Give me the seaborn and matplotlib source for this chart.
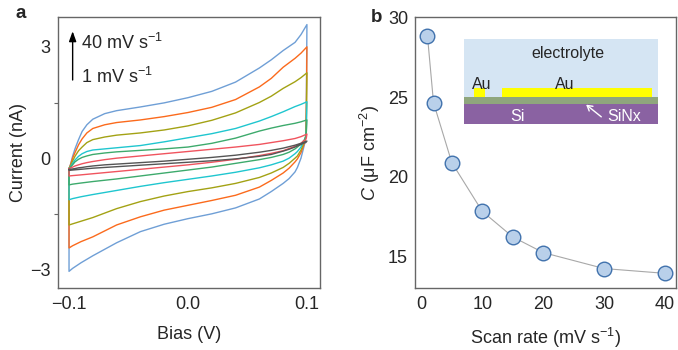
import matplotlib
matplotlib.use("Agg")
import matplotlib.pyplot as plt
import seaborn as sns
import numpy as np
import pandas as pd
from matplotlib.patches import Rectangle

sns.set_theme(style="white")
plt.rcParams['font.family'] = ['Liberation Sans', 'DejaVu Sans']
plt.rcParams['mathtext.fontset'] = 'custom'
plt.rcParams['mathtext.rm'] = 'Liberation Sans'
plt.rcParams['mathtext.it'] = 'Liberation Sans:italic'

# ---------------- Panel a data (CV curves) ----------------
scan_rates_a = [40, 30, 20, 10, 5, 2, 1]
colors_a = ["#6f9fd6", "#fb6a1c", "#a3a214", "#1fc6cf", "#3daa6c", "#f0545e", "#555555"]

v_fwd = [-0.1, -0.099, -0.097, -0.095, -0.092, -0.089, -0.085, -0.08, -0.07, -0.06, -0.04, -0.02,
         0.0, 0.02, 0.04, 0.06, 0.07, 0.08, 0.09, 0.095, 0.1]
v_rev = [0.1, 0.0995, 0.099, 0.098, 0.097, 0.095, 0.092, 0.09, 0.085, 0.08, 0.07, 0.06, 0.04, 0.02,
         0.0, -0.02, -0.04, -0.06, -0.08, -0.09, -0.097, -0.1, -0.1]

i_fwd_40 = [-0.28, -0.2, 0.05, 0.25, 0.5, 0.72, 0.9, 1.05, 1.2, 1.28, 1.38, 1.49, 1.63, 1.8, 2.05, 2.43, 2.65, 2.9, 3.12, 3.33, 3.6]
i_rev_40 = [3.6, 1.5, 0.6, 0.38, 0.25, 0.0, -0.25, -0.37, -0.55, -0.68, -0.9, -1.1, -1.34, -1.5, -1.63, -1.78, -1.98, -2.28, -2.63, -2.82, -2.97, -3.05, -0.28]
i_fwd_30 = [-0.28, -0.2, 0.0, 0.15, 0.36, 0.52, 0.68, 0.8, 0.9, 0.96, 1.03, 1.12, 1.23, 1.37, 1.58, 1.92, 2.15, 2.45, 2.69, 2.83, 3.0]
i_rev_30 = [3.0, 1.2, 0.6, 0.42, 0.32, 0.15, -0.02, -0.1, -0.27, -0.4, -0.6, -0.78, -1.0, -1.14, -1.27, -1.4, -1.58, -1.8, -2.12, -2.25, -2.36, -2.42, -0.28]
i_fwd_20 = [-0.28, -0.22, -0.08, 0.05, 0.2, 0.3, 0.42, 0.5, 0.57, 0.62, 0.68, 0.76, 0.87, 1.02, 1.22, 1.5, 1.67, 1.88, 2.06, 2.17, 2.3]
i_rev_20 = [2.3, 1.0, 0.6, 0.46, 0.38, 0.22, 0.06, 0.0, -0.14, -0.25, -0.4, -0.52, -0.68, -0.8, -0.9, -1.02, -1.17, -1.36, -1.6, -1.7, -1.77, -1.8, -0.28]
i_fwd_10 = [-0.28, -0.24, -0.14, -0.05, 0.05, 0.12, 0.18, 0.22, 0.25, 0.28, 0.34, 0.44, 0.55, 0.66, 0.8, 1.0, 1.12, 1.25, 1.39, 1.45, 1.52]
i_rev_10 = [1.52, 0.8, 0.58, 0.5, 0.44, 0.3, 0.18, 0.12, 0.0, -0.08, -0.18, -0.26, -0.38, -0.48, -0.57, -0.66, -0.76, -0.87, -0.98, -1.04, -1.09, -1.12, -0.28]
i_fwd_5 = [-0.28, -0.25, -0.18, -0.1, -0.03, 0.02, 0.06, 0.1, 0.14, 0.17, 0.21, 0.25, 0.3, 0.4, 0.54, 0.73, 0.81, 0.88, 0.94, 0.98, 1.03]
i_rev_5 = [1.03, 0.7, 0.55, 0.5, 0.46, 0.38, 0.3, 0.25, 0.16, 0.1, 0.02, -0.04, -0.14, -0.24, -0.32, -0.4, -0.48, -0.56, -0.63, -0.67, -0.7, -0.72, -0.28]
i_fwd_2 = [-0.28, -0.27, -0.24, -0.21, -0.18, -0.15, -0.12, -0.09, -0.04, 0.0, 0.06, 0.12, 0.18, 0.24, 0.3, 0.37, 0.42, 0.47, 0.53, 0.58, 0.65]
i_rev_2 = [0.65, 0.55, 0.5, 0.48, 0.46, 0.4, 0.35, 0.32, 0.26, 0.2, 0.13, 0.07, -0.03, -0.11, -0.18, -0.24, -0.3, -0.36, -0.42, -0.45, -0.47, -0.48, -0.28]
i_fwd_1 = [-0.3, -0.3, -0.29, -0.28, -0.26, -0.25, -0.23, -0.21, -0.18, -0.16, -0.12, -0.08, -0.03, 0.02, 0.08, 0.16, 0.21, 0.27, 0.35, 0.4, 0.46]
i_rev_1 = [0.46, 0.44, 0.42, 0.41, 0.4, 0.37, 0.33, 0.3, 0.24, 0.19, 0.1, 0.05, -0.02, -0.07, -0.11, -0.15, -0.19, -0.23, -0.27, -0.3, -0.32, -0.33, -0.3]

curves_fwd = [i_fwd_40, i_fwd_30, i_fwd_20, i_fwd_10, i_fwd_5, i_fwd_2, i_fwd_1]
curves_rev = [i_rev_40, i_rev_30, i_rev_20, i_rev_10, i_rev_5, i_rev_2, i_rev_1]

# ---------------- Panel b data ----------------
scan_rate_b = [1, 2, 5, 10, 15, 20, 30, 40]
capacitance_b = [28.85, 24.65, 20.9, 17.85, 16.25, 15.27, 14.27, 13.97]

fig = plt.figure(figsize=(6.78, 3.5), dpi=100)
axa = fig.add_axes([0.0855, 0.177, 0.3865, 0.774])
axb = fig.add_axes([0.612, 0.177, 0.3855, 0.774])

spine_col = "#666666"
fs = 13

# ---- panel a ----
for sr, col, f, r in zip(scan_rates_a, colors_a, curves_fwd, curves_rev):
    df = pd.DataFrame({"V": v_fwd + v_rev, "I": f + r})
    sns.lineplot(data=df, x="V", y="I", sort=False, estimator=None,
                 color=col, lw=1.0, ax=axa)
axa.set_xlim(-0.1093, 0.111)
axa.set_ylim(-3.5, 3.8)
axa.set_xticks([-0.1, 0.0, 0.1])
axa.set_xticklabels(["\u22120.1", "0.0", "0.1"])
axa.set_yticks([-3, 0, 3])
axa.set_yticklabels(["\u22123", "0", "3"])
axa.set_yticks([-1.5, 1.5], minor=True)
axa.set_xlabel("Bias (V)", fontsize=fs, labelpad=9)
axa.set_ylabel("Current (nA)", fontsize=fs, labelpad=2)
axa.tick_params(axis="x", direction="in", length=4, width=0.8, color=spine_col,
                labelsize=fs, pad=6)
axa.tick_params(axis="y", which="both", direction="out", length=4, width=0.8,
                color=spine_col, labelsize=fs, pad=1.5)
axa.tick_params(axis="y", which="minor", left=True, length=3)
for s in axa.spines.values():
    s.set_color(spine_col)
    s.set_linewidth(1.0)

axa.annotate("", xy=(0.056, 0.948), xytext=(0.056, 0.768), xycoords="axes fraction",
             arrowprops=dict(arrowstyle="-|>,head_length=0.5,head_width=0.18",
                             color="black", lw=1.0, shrinkA=0, shrinkB=0))
axa.text(0.088, 0.905, "40 mV s$^{-1}$", transform=axa.transAxes, fontsize=fs,
         va="center", ha="left")
axa.text(0.088, 0.78, "1 mV s$^{-1}$", transform=axa.transAxes, fontsize=fs,
         va="center", ha="left")
fig.text(16 / 678, 1 - 14 / 350, "a", fontsize=13.5, fontweight="bold", ha="left", va="center")

# ---- panel b ----
dfb = pd.DataFrame({"rate": scan_rate_b, "C": capacitance_b})
sns.lineplot(data=dfb, x="rate", y="C", color="#a8a8a8", lw=0.8, ax=axb, zorder=2)
sns.scatterplot(data=dfb, x="rate", y="C", s=110, color="#b9d0ea",
                edgecolor="#4172ad", linewidth=1.0, ax=axb, zorder=3)
axb.set_xlim(-1.05, 41.85)
axb.set_ylim(13.05, 30)
axb.set_xticks([0, 10, 20, 30, 40])
axb.set_yticks([15, 20, 25, 30])
axb.set_xlabel("Scan rate (mV s$^{-1}$)", fontsize=fs, labelpad=9)
axb.set_ylabel("$\\mathit{C}$ (\u03bcF cm$^{-2}$)", fontsize=fs, labelpad=4)
axb.tick_params(axis="both", direction="in", length=4, width=0.8, color=spine_col,
                labelsize=fs, pad=6)
axb.tick_params(axis="y", pad=5)
for s in axb.spines.values():
    s.set_color(spine_col)
    s.set_linewidth(1.0)
fig.text(371 / 678, 1 - 17 / 350, "b", fontsize=13.5, fontweight="bold", ha="left", va="center")

# inset schematic (axes fraction)
T = axb.transAxes
ifs = 11.5
axb.add_patch(Rectangle((0.187, 0.705), 0.744, 0.214, transform=T,
                        facecolor="#d5e5f3", edgecolor="none", zorder=1))
axb.add_patch(Rectangle((0.187, 0.679), 0.744, 0.026, transform=T,
                        facecolor="#8fa67d", edgecolor="none", zorder=1))
axb.add_patch(Rectangle((0.187, 0.605), 0.744, 0.074, transform=T,
                        facecolor="#8a62a2", edgecolor="none", zorder=1))
axb.add_patch(Rectangle((0.225, 0.705), 0.042, 0.033, transform=T,
                        facecolor="#ffff00", edgecolor="none", zorder=1))
axb.add_patch(Rectangle((0.332, 0.705), 0.576, 0.033, transform=T,
                        facecolor="#ffff00", edgecolor="none", zorder=1))
axb.text(0.584, 0.866, "electrolyte", transform=T, fontsize=ifs, ha="center", va="center")
axb.text(0.22, 0.753, "Au", transform=T, fontsize=ifs, ha="left", va="center")
axb.text(0.572, 0.753, "Au", transform=T, fontsize=ifs, ha="center", va="center")
axb.text(0.393, 0.633, "Si", transform=T, fontsize=ifs, ha="center", va="center", color="white")
axb.text(0.80, 0.633, "SiNx", transform=T, fontsize=ifs, ha="center", va="center", color="white")
axb.annotate("", xy=(0.655, 0.677), xytext=(0.713, 0.632), xycoords=T,
             arrowprops=dict(arrowstyle="->,head_length=0.3,head_width=0.18",
                             color="white", lw=1.0, shrinkA=0, shrinkB=0))

fig.savefig("out.png", dpi=100)
